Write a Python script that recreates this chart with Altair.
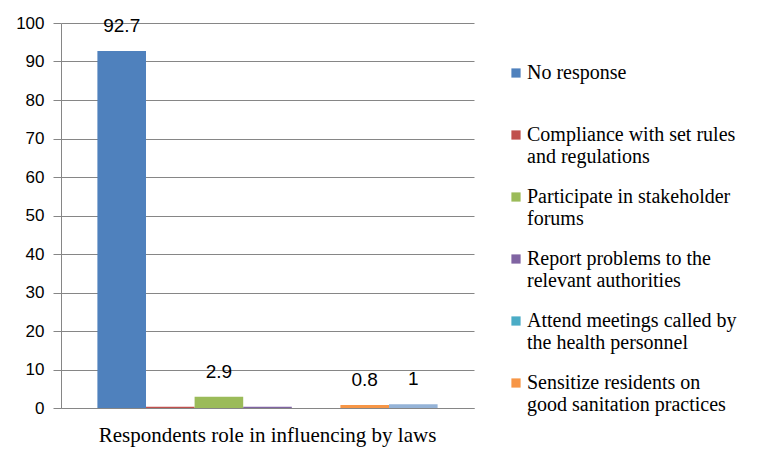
import altair as alt
import pandas as pd

group = "Respondents role in influencing by laws"
series = [
    "No response",
    "Compliance with set rules|and regulations",
    "Participate in stakeholder|forums",
    "Report problems to the|relevant authorities",
    "Attend meetings called by|the health personnel",
    "Sensitize residents on|good sanitation practices",
    "Other",
]
values = [92.7, 0.3, 2.9, 0.3, 0.0, 0.8, 1.0]
labels = ["92.7", "", "2.9", "", "", "0.8", "1"]
colors = ["#4F81BD", "#C0504D", "#9BBB59", "#8064A2", "#4BACC6", "#F79646", "#95B3D7"]

df = pd.DataFrame({"group": group, "series": series, "value": values, "label": labels})

x = alt.X("group:N", title=None,
          scale=alt.Scale(paddingOuter=0.107, paddingInner=0),
          axis=alt.Axis(labelFont="Liberation Serif", labelFontSize=21, labelColor="#000000",
                        labelPadding=16, labelLimit=600, ticks=False, domainColor="#868686",
                        labelAngle=0))
xo = alt.XOffset("series:N", sort=series, scale=alt.Scale(paddingInner=0, paddingOuter=0))
y = alt.Y("value:Q", title=None, scale=alt.Scale(domain=[0, 100], nice=False),
          axis=alt.Axis(values=list(range(0, 101, 10)), labelFont="Liberation Sans", labelFontSize=17,
                        labelColor="#000000", labelPadding=9, tickSize=8, tickColor="#868686",
                        domainColor="#868686", gridColor="#868686", gridWidth=1))

color = alt.Color("series:N", sort=series,
                  scale=alt.Scale(domain=series, range=colors),
                  legend=alt.Legend(title=None, values=series[:6], orient="none",
                                    legendX=445, legendY=40, padding=0,
                                    symbolType="square", symbolSize=85, symbolStrokeWidth=0,
                                    labelFont="Liberation Serif", labelFontSize=20,
                                    labelColor="#000000", labelLimit=300, labelOffset=1,
                                    labelBaseline="middle", rowPadding=20,
                                    labelExpr="datum.label == 'No response' ? ['No response', ''] : split(datum.label, '|')"))

bars = alt.Chart(df).mark_bar().encode(x=x, xOffset=xo, y=y, color=color)
text = alt.Chart(df).mark_text(baseline="bottom", dy=-15, fontSize=19, font="Liberation Sans",
                               color="#000000").encode(x=x, xOffset=xo, y=y, text="label:N")

chart = (bars + text).properties(
    width=413, height=385,
    autosize=alt.AutoSizeParams(type="none"),
    padding={"left": 53, "top": 15, "right": 275, "bottom": 40},
).configure_view(stroke=None)

chart.save("out.html", embed_options={"renderer": "svg", "actions": False})
